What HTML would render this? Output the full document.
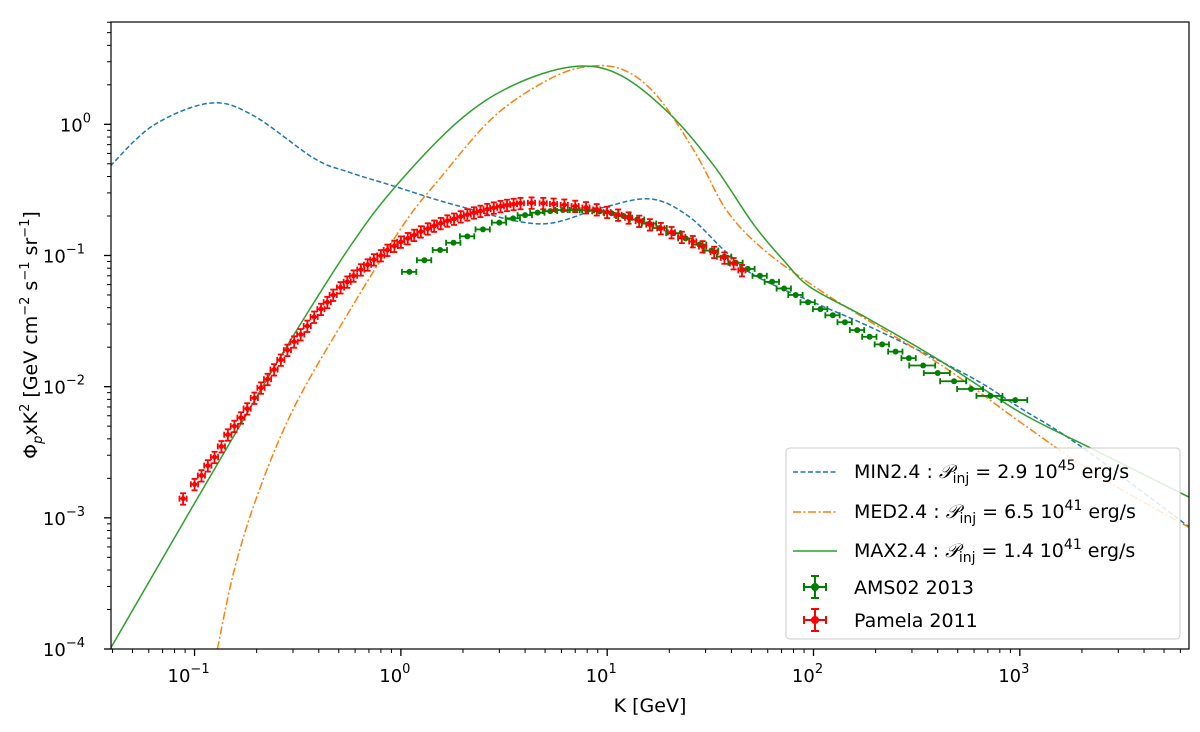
<!DOCTYPE html>
<html><head><meta charset="utf-8"><style>
html,body{margin:0;padding:0;background:#fff}
svg{display:block;font-family:"DejaVu Sans","Liberation Sans",sans-serif}
</style></head><body>
<svg id="chart" width="1200" height="732" viewBox="0 0 1200 732" xmlns="http://www.w3.org/2000/svg">
<g id="marks"></g>
<g id="axes"></g>
<text x="650" y="712" font-size="19" text-anchor="middle">K [GeV]</text>
<text transform="translate(37,335) rotate(-90)" font-size="19" text-anchor="middle">Φ<tspan font-style="italic" font-size="13" dy="5">p</tspan><tspan dy="-5">xK</tspan><tspan font-size="13" dy="-8">2</tspan><tspan dy="8"> [GeV cm</tspan><tspan font-size="13" dy="-8">−2</tspan><tspan dy="8"> s</tspan><tspan font-size="13" dy="-8">−1</tspan><tspan dy="8"> sr</tspan><tspan font-size="13" dy="-8">−1</tspan><tspan dy="8">]</tspan></text>
<g id="legend">
<rect x="786" y="448" width="394" height="191" rx="4" fill="#fff" fill-opacity="0.85" stroke="#ccc" stroke-width="1"/>
<g><line x1="793" y1="472" x2="837" y2="472" stroke="#1f77b4" stroke-width="1.5" stroke-dasharray="5,2.5"/><text x="854" y="478" font-size="19">MIN2.4 : <tspan font-style="italic" font-family="Liberation Serif,serif">𝒫</tspan><tspan font-size="14" dy="5">inj</tspan><tspan dy="-5"> = 2.9 10</tspan><tspan font-size="14" dy="-8">45</tspan><tspan dy="8"> erg/s</tspan></text></g>
<g><line x1="793" y1="512" x2="837" y2="512" stroke="#ff7f0e" stroke-width="1.5" stroke-dasharray="8,2.5,2,2.5"/><text x="854" y="518" font-size="19">MED2.4 :  <tspan font-style="italic" font-family="Liberation Serif,serif">𝒫</tspan><tspan font-size="14" dy="5">inj</tspan><tspan dy="-5"> = 6.5 10</tspan><tspan font-size="14" dy="-8">41</tspan><tspan dy="8"> erg/s</tspan></text></g>
<g><line x1="793" y1="551" x2="837" y2="551" stroke="#2ca02c" stroke-width="1.5"/><text x="854" y="557" font-size="19">MAX2.4 : <tspan font-style="italic" font-family="Liberation Serif,serif">𝒫</tspan><tspan font-size="14" dy="5">inj</tspan><tspan dy="-5"> = 1.4 10</tspan><tspan font-size="14" dy="-8">41</tspan><tspan dy="8"> erg/s</tspan></text></g>
<g stroke="green" stroke-width="2"><line x1="804" y1="587" x2="826" y2="587"/><line x1="815" y1="576" x2="815" y2="598"/><line x1="804" y1="583" x2="804" y2="591"/><line x1="826" y1="583" x2="826" y2="591"/><line x1="811" y1="576" x2="819" y2="576"/><line x1="811" y1="598" x2="819" y2="598"/><circle cx="815" cy="587" r="3" fill="green"/><text x="854" y="594" font-size="19" fill="#000" stroke="none">AMS02 2013</text></g>
<g stroke="red" stroke-width="2"><line x1="804" y1="620" x2="826" y2="620"/><line x1="815" y1="609" x2="815" y2="631"/><line x1="804" y1="616" x2="804" y2="624"/><line x1="826" y1="616" x2="826" y2="624"/><line x1="811" y1="609" x2="819" y2="609"/><line x1="811" y1="631" x2="819" y2="631"/><circle cx="815" cy="620" r="3" fill="red"/><text x="854" y="627" font-size="19" fill="#000" stroke="none">Pamela 2011</text></g>
</g>
</svg>
<script>
const minK=[0.039,0.063,0.119,0.192,0.38,0.565,0.914,1.88,4.7,9.3,16.1,24.7,38,56,184,433,661,1016,1930,6840];
const minV=[0.48,0.98,1.45,1.17,0.55,0.43,0.34,0.24,0.174,0.23,0.27,0.2,0.105,0.066,0.029,0.015,0.0105,0.0068,0.0036,0.00082];
const medK=[0.129,0.157,0.208,0.31,0.565,1.03,1.54,2.8,5.1,7.94,12,17.6,27,38,58,106,184,433,1016,2390,6840];
const medV=[0.0001,0.00042,0.0017,0.0074,0.038,0.172,0.384,1.13,2.16,2.75,2.6,1.62,0.59,0.22,0.109,0.055,0.032,0.014,0.0053,0.0021,0.00082];
const maxK=[0.039,0.0973,0.208,0.324,0.565,0.914,1.88,3.42,6.76,11.4,20,33,51,72,97,184,433,1016,2390,6840];
const maxV=[0.0001,0.0012,0.0093,0.0295,0.116,0.318,1.04,1.95,2.75,2.4,1.21,0.48,0.174,0.091,0.057,0.033,0.015,0.0063,0.0032,0.0014];
const pamK=[0.088,0.1,0.108,0.116,0.125,0.135,0.145,0.156,0.168,0.18,0.195,0.21,0.226,0.243,0.262,0.282,0.304,0.327,0.352,0.38,0.41,0.44,0.47,0.51,0.55,0.59,0.64,0.69,0.74,0.8,0.86,0.93,1.0,1.08,1.16,1.25,1.35,1.45,1.56,1.68,1.81,1.95,2.1,2.26,2.43,2.62,2.82,3.04,3.27,3.52,3.8,4.3,4.9,5.5,6.2,7,7.9,8.9,10,11.3,12.7,14.3,16.1,18.2,20.5,23,26,29,33,37,41,45];
const pamV=[0.0014,0.0018,0.0021,0.0025,0.0029,0.0035,0.0043,0.005,0.0058,0.0068,0.0082,0.0098,0.0114,0.0135,0.016,0.019,0.022,0.025,0.029,0.034,0.039,0.044,0.05,0.057,0.063,0.07,0.078,0.085,0.093,0.1,0.11,0.118,0.127,0.135,0.143,0.152,0.16,0.168,0.176,0.184,0.19,0.198,0.205,0.212,0.218,0.225,0.231,0.237,0.242,0.246,0.25,0.252,0.25,0.247,0.243,0.238,0.232,0.224,0.214,0.204,0.194,0.183,0.172,0.161,0.15,0.138,0.128,0.117,0.106,0.096,0.087,0.077];
const amsK=[1.1,1.3,1.55,1.8,2.1,2.5,3,3.5,4,4.6,5.3,6.1,7,8,9.2,10.5,12,14,16,18,21,24,28,32,37,42,48,55,63,72,82,94,108,124,142,163,187,215,250,290,340,400,480,580,720,950];
const amsV=[0.075,0.092,0.11,0.125,0.14,0.158,0.178,0.192,0.203,0.212,0.218,0.222,0.222,0.221,0.217,0.21,0.2,0.188,0.175,0.162,0.148,0.135,0.121,0.109,0.098,0.088,0.079,0.07,0.063,0.056,0.05,0.044,0.039,0.035,0.031,0.027,0.024,0.021,0.0185,0.0165,0.0145,0.0127,0.011,0.0096,0.0085,0.0079];
const xTickExp=[-1,0,1,2,3];
const yTickExp=[0,-1,-2,-3,-4];

const L=111,R=1189,T=22,B=649;
const XMIN=-1.405,XMAX=3.82,YMIN=-4,YMAX=0.78;
const sx=k=>L+(Math.log10(k)-XMIN)/(XMAX-XMIN)*(R-L);
const sy=v=>B-(Math.log10(v)-YMIN)/(YMAX-YMIN)*(B-T);
const NS="http://www.w3.org/2000/svg";
const mk=(p,t,a)=>{const e=document.createElementNS(NS,t);for(const k in a)e.setAttribute(k,a[k]);p.appendChild(e);return e;};
const marks=document.getElementById('marks');
const axes=document.getElementById('axes');
const defs=mk(marks,'defs',{});
const cp=mk(defs,'clipPath',{id:'clip'});mk(cp,'rect',{x:L,y:T,width:R-L,height:B-T});
const g=mk(marks,'g',{'clip-path':'url(#clip)'});

function curve(K,V,color,dash,name){
  const P=K.map((k,i)=>[sx(k),sy(V[i])]);
  let d='M'+P[0][0].toFixed(1)+','+P[0][1].toFixed(1);
  for(let i=0;i<P.length-1;i++){
    const p0=P[i-1]||P[i],p1=P[i],p2=P[i+1],p3=P[i+2]||P[i+1];
    const c1=[p1[0]+(p2[0]-p0[0])/6,p1[1]+(p2[1]-p0[1])/6];
    const c2=[p2[0]-(p3[0]-p1[0])/6,p2[1]-(p3[1]-p1[1])/6];
    d+='C'+c1.map(v=>v.toFixed(1)).join(',')+' '+c2.map(v=>v.toFixed(1)).join(',')+' '+p2.map(v=>v.toFixed(1)).join(',');
  }
  const p=mk(g,'path',{d:d,fill:'none',stroke:color,'stroke-width':1.5,'stroke-dasharray':dash,'stroke-linejoin':'round'});
  
  
}
function points(K,V,color,name,rel,hw,r){
  const grp=mk(g,'g',{stroke:color,'stroke-width':1.8,fill:color});
  
  
  K.forEach((k,i)=>{
    const x=sx(k),y=sy(V[i]);
    const w=(name==='ams02-data'&&k>300)?hw*1.8:hw;
    const x1=sx(k*(1-w)),x2=sx(k*(1+w));
    const y1=sy(V[i]*(1+rel)),y2=sy(V[i]*(1-rel));
    const pt=mk(grp,'g',{});
    
    
    mk(pt,'line',{x1:x1,y1:y,x2:x2,y2:y});
    mk(pt,'line',{x1:x,y1:y1,x2:x,y2:y2});
    mk(pt,'line',{x1:x1,y1:y-3,x2:x1,y2:y+3});mk(pt,'line',{x1:x2,y1:y-3,x2:x2,y2:y+3});
    if(rel>0.05){mk(pt,'line',{x1:x-3,y1:y1,x2:x+3,y2:y1});mk(pt,'line',{x1:x-3,y1:y2,x2:x+3,y2:y2});}
    mk(pt,'circle',{cx:x,cy:y,r:r,stroke:'none'});
  });
}
curve(minK,minV,'#1f77b4','5,2.5','min-curve');
curve(medK,medV,'#ff7f0e','8,2.5,2,2.5','med-curve');
curve(maxK,maxV,'#2ca02c','none','max-curve');
points(amsK,amsV,'green','ams02-data',0.03,0.08,3);
points(pamK,pamV,'red','pamela-data',0.1,0.04,2.5);

mk(axes,'rect',{x:L,y:T,width:R-L,height:B-T,fill:'none',stroke:'#000','stroke-width':1.2});
for(let e=-2;e<=3;e++)for(let m=1;m<10;m++){
  const lv=e+Math.log10(m); if(lv<XMIN||lv>XMAX)continue;
  const x=L+(lv-XMIN)/(XMAX-XMIN)*(R-L);
  mk(axes,'line',{x1:x,y1:B,x2:x,y2:B+(m==1?7:4),stroke:'#000','stroke-width':m==1?1.3:1});
}
for(let e=-4;e<=0;e++)for(let m=1;m<10;m++){
  const lv=e+Math.log10(m); if(lv<YMIN||lv>YMAX)continue;
  const y=B-(lv-YMIN)/(YMAX-YMIN)*(B-T);
  mk(axes,'line',{x1:L,y1:y,x2:L-(m==1?7:4),y2:y,stroke:'#000','stroke-width':m==1?1.3:1});
}
xTickExp.forEach(e=>{
  const t=mk(axes,'text',{x:sx(Math.pow(10,e))-6,y:B+33,'font-size':18,'text-anchor':'middle'});
  
  
  t.innerHTML='10<tspan font-size="13" dy="-9">'+(e<0?'−'+(-e):e)+'</tspan>';
});
yTickExp.forEach(e=>{
  const t=mk(axes,'text',{x:L-12-(e<0?14:8),y:sy(Math.pow(10,e))+7,'font-size':18,'text-anchor':'end'});
  
  
  t.innerHTML='10<tspan font-size="13" dy="-9">'+(e<0?'−'+(-e):e)+'</tspan>';
});
</script>
</body></html>
